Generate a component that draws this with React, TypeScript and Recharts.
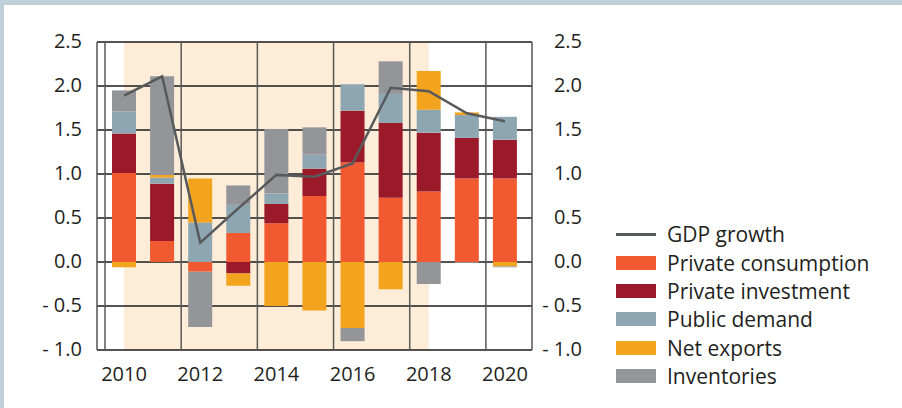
import React from 'react';
import {
  ComposedChart,
  Bar,
  Line,
  XAxis,
  YAxis,
  CartesianGrid,
  ReferenceArea,
  Legend,
} from 'recharts';

const years = [2010, 2011, 2012, 2013, 2014, 2015, 2016, 2017, 2018, 2019, 2020];
const privateConsumption = [1.01, 0.24, -0.11, 0.33, 0.44, 0.75, 1.13, 0.73, 0.8, 0.95, 0.95];
const privateInvestment = [0.45, 0.65, 0, -0.13, 0.22, 0.31, 0.59, 0.85, 0.67, 0.46, 0.44];
const publicDemand = [0.25, 0.07, 0.45, 0.32, 0.12, 0.16, 0.3, 0.33, 0.26, 0.26, 0.26];
const netExports = [-0.06, 0.03, 0.5, -0.14, -0.5, -0.55, -0.75, -0.31, 0.44, 0.03, -0.05];
const inventories = [0.24, 1.12, -0.63, 0.22, 0.73, 0.31, -0.15, 0.37, -0.25, -0.01, -0.01];
const gdpGrowth = [1.89, 2.11, 0.22, 0.61, 0.99, 0.97, 1.12, 1.98, 1.94, 1.69, 1.6];

const xTickYears = [2010, 2012, 2014, 2016, 2018, 2020];
const xGridYears = [2009.5, 2011.5, 2013.5, 2015.5, 2017.5, 2019.5];
const yTicks = [-1, -0.5, 0, 0.5, 1, 1.5, 2, 2.5];
const shadeStart = 2010;
const shadeEnd = 2018;

const seriesNames = {
  gdp: 'GDP growth',
  pc: 'Private consumption',
  pi: 'Private investment',
  pd: 'Public demand',
  nx: 'Net exports',
  inv: 'Inventories',
};

const colors = {
  gdp: '#58595b',
  pc: '#f15a30',
  pi: '#9a1a2a',
  pd: '#8ea6b2',
  nx: '#f2a41f',
  inv: '#939598',
  shade: '#fdecd7',
  text: '#231f20',
  band: '#bfd0d9',
};

const data = years.map((year, i) => ({
  year,
  pc: privateConsumption[i],
  pi: privateInvestment[i],
  pd: publicDemand[i],
  nx: netExports[i],
  inv: inventories[i],
  gdp: gdpGrowth[i],
}));

const FONT = "'Open Sans', sans-serif";

const fmt = (v: number) => (v < 0 ? '- ' + Math.abs(v).toFixed(1) : v.toFixed(1));

const XTick = (props: any) => {
  const { x, y, payload } = props;
  return (
    <text x={x} y={y + 31} textAnchor="middle" fontSize={20} fontFamily={FONT} fill={colors.text}>
      {payload.value}
    </text>
  );
};

const LeftTick = (props: any) => {
  const { x, y, payload } = props;
  return (
    <text x={x - 15} y={y + 6} textAnchor="end" fontSize={20} fontFamily={FONT} fill={colors.text}>
      {fmt(payload.value)}
    </text>
  );
};

const RightTick = (props: any) => {
  const { x, y, payload } = props;
  return (
    <text x={x + 50} y={y + 6} textAnchor="end" fontSize={20} fontFamily={FONT} fill={colors.text}>
      {fmt(payload.value)}
    </text>
  );
};

const legendItems = [
  { key: 'gdp', type: 'line' },
  { key: 'pc', type: 'rect' },
  { key: 'pi', type: 'rect' },
  { key: 'pd', type: 'rect' },
  { key: 'nx', type: 'rect' },
  { key: 'inv', type: 'rect' },
];

const renderLegend = () => (
  <div style={{ fontFamily: FONT, fontSize: 21, color: colors.text }}>
    {legendItems.map((it) => (
      <div key={it.key} style={{ display: 'flex', alignItems: 'center', height: 28.4 }}>
        <div style={{ width: 40, height: 14, display: 'flex', alignItems: 'center', flexShrink: 0 }}>
          {it.type === 'line' ? (
            <div style={{ width: 40, height: 3, background: (colors as any)[it.key] }} />
          ) : (
            <div style={{ width: 40, height: 14, background: (colors as any)[it.key] }} />
          )}
        </div>
        <span style={{ marginLeft: 11, whiteSpace: 'nowrap', lineHeight: '28px' }}>
          {(seriesNames as any)[it.key]}
        </span>
      </div>
    ))}
  </div>
);

export default function App() {
  return (
    <div style={{ position: 'absolute', left: 0, top: 0, width: 902, height: 408, background: '#fff', overflow: 'hidden' }}>
      <div style={{ position: 'absolute', left: 0, top: 0, width: 902, height: 5, background: colors.band }} />
      <div style={{ position: 'absolute', left: 0, top: 0, width: 4, height: 408, background: colors.band }} />
      <div style={{ position: 'absolute', left: 0, top: 0 }}>
        <ComposedChart
          width={902}
          height={408}
          data={data}
          stackOffset="sign"
          margin={{ top: 42, right: 310, bottom: 28, left: 37 }}
          style={{ fontFamily: FONT }}
        >
          <ReferenceArea
            yAxisId="left"
            x1={shadeStart}
            x2={shadeEnd}
            fill={colors.shade}
            fillOpacity={1}
            stroke="none"
            zIndex={-200}
          />
          <CartesianGrid
            yAxisId="left"
            vertical={false}
            stroke="#1a1a1a"
            strokeWidth={1.5}
            strokeOpacity={1}
          />
          <CartesianGrid
            yAxisId="left"
            horizontal={false}
            verticalValues={xGridYears}
            stroke="#5a5a5a"
            strokeWidth={1.5}
            strokeOpacity={1}
          />
          <XAxis
            dataKey="year"
            type="number"
            domain={[2009.29, 2020.71]}
            ticks={xTickYears}
            interval={0}
            allowDataOverflow
            axisLine={false}
            tickLine={false}
            tickSize={0}
            tickMargin={0}
            height={30}
            tick={<XTick />}
          />
          <YAxis
            yAxisId="left"
            domain={[-1, 2.5]}
            ticks={yTicks}
            interval={0}
            allowDataOverflow
            width={60}
            axisLine={{ stroke: '#555', strokeWidth: 1.5 }}
            tickLine={false}
            tickSize={0}
            tickMargin={0}
            tick={<LeftTick />}
          />
          <YAxis
            yAxisId="right"
            orientation="right"
            domain={[-1, 2.5]}
            ticks={yTicks}
            interval={0}
            allowDataOverflow
            width={60}
            axisLine={{ stroke: '#555', strokeWidth: 1.5 }}
            tickLine={false}
            tickSize={0}
            tickMargin={0}
            tick={<RightTick />}
          />
          <Bar yAxisId="left" dataKey="pc" name={seriesNames.pc} stackId="s" fill={colors.pc} barSize={24} isAnimationActive={false} />
          <Bar yAxisId="left" dataKey="pi" name={seriesNames.pi} stackId="s" fill={colors.pi} barSize={24} isAnimationActive={false} />
          <Bar yAxisId="left" dataKey="pd" name={seriesNames.pd} stackId="s" fill={colors.pd} barSize={24} isAnimationActive={false} />
          <Bar yAxisId="left" dataKey="nx" name={seriesNames.nx} stackId="s" fill={colors.nx} barSize={24} isAnimationActive={false} />
          <Bar yAxisId="left" dataKey="inv" name={seriesNames.inv} stackId="s" fill={colors.inv} barSize={24} isAnimationActive={false} />
          <Line
            yAxisId="left"
            type="linear"
            dataKey="gdp"
            name={seriesNames.gdp}
            stroke={colors.gdp}
            strokeWidth={2.5}
            dot={false}
            activeDot={false}
            isAnimationActive={false}
          />
          <Legend
            layout="vertical"
            align="center"
            verticalAlign="middle"
            content={renderLegend}
            wrapperStyle={{ left: 616, top: 220, width: 282, height: 175 }}
          />
        </ComposedChart>
      </div>
    </div>
  );
}
